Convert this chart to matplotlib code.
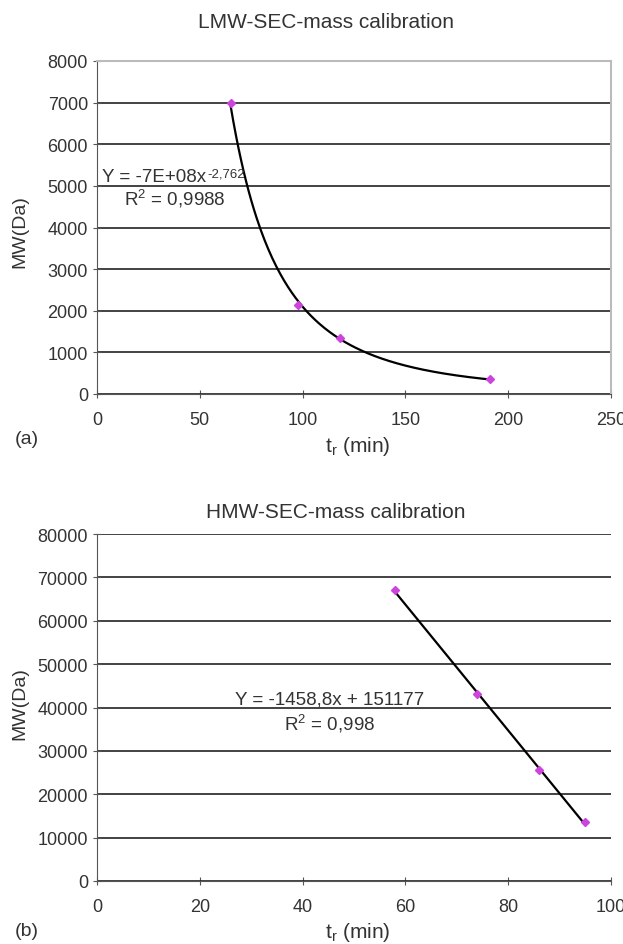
import numpy as np
import matplotlib.pyplot as plt

plt.rcParams['font.family'] = ['Liberation Sans', 'DejaVu Sans']
plt.rcParams['font.size'] = 13

# LMW calibration points
t_lmw = [65, 98, 118, 191]
mw_lmw = [7000, 2150, 1350, 350]

# HMW calibration points
t_hmw = [58, 74, 86, 95]
mw_hmw = [67000, 43000, 25500, 13500]

W, H = 623, 945
fig = plt.figure(figsize=(W / 100, H / 100), dpi=100)

purple = '#cc44dd'
txt = '#333333'


def style(ax, xmax, ymax, ystep, xstep, right_frame):
    ax.set_xlim(0, xmax)
    ax.set_ylim(0, ymax)
    ax.set_yticks(np.arange(0, ymax + 1, ystep))
    ax.set_xticks(np.arange(0, xmax + 1, xstep))
    ax.grid(axis='y', color='#222222', lw=1.2)
    ax.set_axisbelow(True)
    ax.spines['left'].set_color('#555555')
    ax.spines['bottom'].set_color('#555555')
    if right_frame:
        ax.spines['top'].set_color('#bbbbbb')
        ax.spines['right'].set_color('#bbbbbb')
        ax.spines['top'].set_linewidth(1.5)
        ax.spines['right'].set_linewidth(1.5)
    else:
        ax.spines['top'].set_visible(False)
        ax.spines['right'].set_visible(False)
    ax.tick_params(direction='inout', length=6, color='#555555', labelsize=13,
                   labelcolor=txt)
    ax.tick_params(axis='x', pad=9)


def px(x, y):
    return x / W, 1 - y / H


# (a)
ax1 = fig.add_axes([97 / W, 1 - 395 / H, 514 / W, 333 / H])
style(ax1, 250, 8000, 1000, 50, True)
k, c = np.polyfit(np.log(t_lmw), np.log(mw_lmw), 1)
xx = np.linspace(min(t_lmw), max(t_lmw), 200)
ax1.plot(xx, np.exp(c) * xx ** k, color='black', lw=1.6, zorder=3)
ax1.plot(t_lmw, mw_lmw, 'D', color=purple, ms=4.5, zorder=4)
fig.text(*px(326, 22), 'LMW-SEC-mass calibration', fontsize=15, color=txt,
         ha='center', va='center')
fig.text(*px(20, 232), 'MW(Da)', fontsize=14, color=txt, rotation=90,
         ha='center', va='center')
fig.text(*px(358, 447), 't$_\\mathregular{r}$ (min)', fontsize=15, color=txt,
         ha='center', va='center')
eq = fig.text(*px(102, 177), 'Y = -7E+08x', fontsize=13.5, color=txt,
              va='center')
fig.canvas.draw()
bb = eq.get_window_extent()
fig.text((bb.x1 + 1) / W, (bb.y1 - 6) / H, '-2,762', fontsize=9.5, color=txt,
         va='center')
fig.text(*px(124, 199), 'R$^{\\mathregular{2}}$ = 0,9988', fontsize=13.5,
         color=txt, va='center')
fig.text(*px(15, 440), '(a)', fontsize=14, color=txt, va='center')

# (b)
ax2 = fig.add_axes([97 / W, 1 - 882 / H, 514 / W, 347 / H])
style(ax2, 100, 80000, 10000, 20, False)
m, b = np.polyfit(t_hmw, mw_hmw, 1)
xx = np.linspace(min(t_hmw), max(t_hmw), 50)
ax2.plot(xx, m * xx + b, color='black', lw=1.6, zorder=3)
ax2.plot(t_hmw, mw_hmw, 'D', color=purple, ms=4.5, zorder=4)
fig.text(*px(336, 512), 'HMW-SEC-mass calibration', fontsize=15, color=txt,
         ha='center', va='center')
fig.text(*px(20, 704), 'MW(Da)', fontsize=14, color=txt, rotation=90,
         ha='center', va='center')
fig.text(*px(358, 933), 't$_\\mathregular{r}$ (min)', fontsize=15, color=txt,
         ha='center', va='center')
fig.text(*px(330, 700), 'Y = -1458,8x + 151177', fontsize=13.5, color=txt,
         ha='center', va='center')
fig.text(*px(330, 724), 'R$^{\\mathregular{2}}$ = 0,998', fontsize=13.5,
         color=txt, ha='center', va='center')
fig.text(*px(15, 932), '(b)', fontsize=14, color=txt, va='center')

fig.savefig('out.png', dpi=100)
